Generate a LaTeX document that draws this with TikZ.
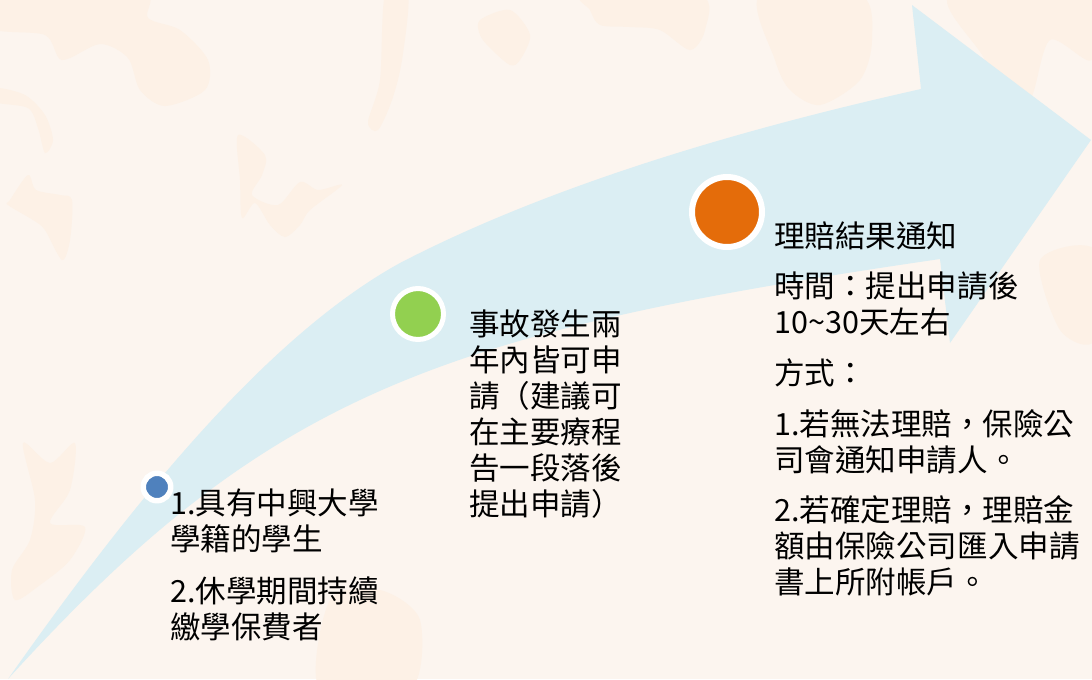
\documentclass[tikz,border=0pt]{standalone}
\usepackage{fontspec}
\setmainfont{Noto Sans CJK TC}
\definecolor{paper}{HTML}{FCF5EF}
\definecolor{blob}{HTML}{FDF1E6}
\definecolor{arrowblue}{HTML}{DBEEF3}
\definecolor{dotblue}{HTML}{4F81BD}
\definecolor{dotgreen}{HTML}{92D050}
\definecolor{dotorange}{HTML}{E46C0A}

\begin{document}
\begin{tikzpicture}[x=0.75pt,y=-0.75pt,
  dot/.style={circle,draw=white,inner sep=0pt},
  info/.style={anchor=base west,inner sep=0pt,text width=260pt,align=left,
    font=\fontsize{22.9pt}{27pt}\selectfont}]
% paper
\useasboundingbox (0,0) rectangle (1092,679);
\fill [paper] (0,0) rectangle (1092,679);

% faint texture
\begin{scope}
\clip (0,0) rectangle (1092,679);
\fill [blob] plot[smooth cycle] coordinates {(-10,-10) (140,-10) (148,18) (180,30) (208,60) (205,90) (165,106) (140,90) (128,58) (100,44) (62,60) (45,35) (-10,28)};
\fill [blob] plot[smooth cycle] coordinates {(-5,88) (25,95) (45,115) (53,140) (45,153) (38,128) (28,108) (-5,102)};
\fill [blob] plot[smooth cycle] coordinates {(10,200) (28,175) (36,190) (60,195) (72,200) (70,240) (62,260) (45,230) (33,220) (8,205)};
\fill [blob] plot[smooth cycle] coordinates {(238,135) (265,155) (262,175) (252,195) (278,205) (300,182) (318,190) (342,185) (310,210) (300,225) (285,237) (270,225) (255,203) (242,218) (240,180)};
\fill [blob] plot[smooth cycle] coordinates {(385,-5) (408,-5) (402,60) (392,100) (378,130) (368,122) (380,80)};
\fill [blob] plot[smooth cycle] coordinates {(480,20) (510,10) (530,35) (520,60) (510,65) (490,48) (480,35)};
\fill [blob] plot[smooth cycle] coordinates {(585,-5) (700,-5) (705,30) (690,50) (660,30) (630,27) (600,25) (590,10)};
\fill [blob] plot[smooth cycle] coordinates {(760,-5) (860,-5) (872,40) (860,80) (820,105) (790,90) (775,60)};
\fill [blob] plot[smooth cycle] coordinates {(950,-5) (1092,-5) (1092,60) (1050,40) (1030,100) (1000,110) (985,60)};
\fill [blob] plot[smooth cycle] coordinates {(23,443) (50,463) (75,443) (70,490) (50,523) (85,527) (70,560) (40,585) (15,600) (12,570) (30,540) (35,500)};
\fill [blob] plot[smooth cycle] coordinates {(330,600) (380,590) (420,620) (410,690) (320,690)};
\fill [blob] plot[smooth cycle] coordinates {(1040,260) (1095,250) (1095,340) (1060,330)};
\end{scope}

% big arrow
\fill [arrowblue] (8,679) .. controls (120,520) and (260,340) .. (400,263)
  .. controls (560,180) and (760,125) .. (921,89)
  -- (912,5) -- (1091,140) -- (950,343) -- (940,259)
  .. controls (440,332) and (268,393) .. (8,679) -- cycle;

% milestones
\node [dot,fill=dotblue,line width=4.1pt,minimum size=20.6pt] (d1) at (157,487) {};
\node [dot,fill=dotgreen,line width=3.75pt,minimum size=38.25pt] (d2) at (418,314) {};
\node [dot,fill=dotorange,line width=4.5pt,minimum size=52.5pt] (d3) at (727,212) {};

\node [info] (t1) at (170,514) {1.具有中興大學\\學籍的學生\\[12pt]2.休學期間持續\\繳學保費者};
\node [info] (t2) at (469,335) {事故發生兩\\年內皆可申\\請（建議可\\在主要療程\\告一段落後\\提出申請）};
\node [info] (t3) at (774,247) {理賠結果通知\\[11pt]時間：提出申請後\\10\textasciitilde30天左右\\[11pt]方式：\\[11pt]1.若無法理賠，保險公\\司會通知申請人。\\[11pt]2.若確定理賠，理賠金\\額由保險公司匯入申請\\書上所附帳戶。};

\end{tikzpicture}
\end{document}
